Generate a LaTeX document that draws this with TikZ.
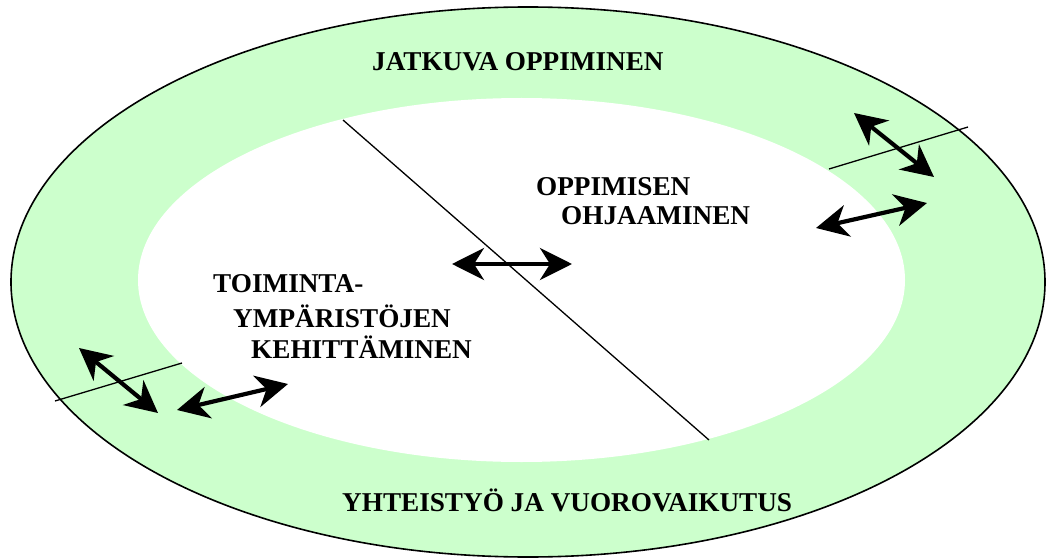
\documentclass[tikz,border=0pt]{standalone}
\usepackage{fontspec}
\setmainfont{Liberation Serif}
\usetikzlibrary{arrows.meta}
\definecolor{ringgreen}{RGB}{204,255,204}
\tikzset{
  lbl/.style={anchor=base west, inner sep=0pt, font=\fontsize{27.2}{30}\selectfont\bfseries},
  thinline/.style={line width=1.3pt},
  bigtip/.tip={Stealth[length=32pt,width=32pt,inset=10pt]},
  dblarrow/.style={line width=4.2pt, arrows={bigtip-bigtip}}
}
\begin{document}
\begin{tikzpicture}[x=1pt,y=-1pt]
\useasboundingbox (0,0) rectangle (1047,559);
% rings
\fill[ringgreen] (528,282) ellipse [x radius=517pt, y radius=275pt];
\fill[white] (521.5,280) ellipse [x radius=383.5pt, y radius=182pt];
\draw[line width=1.6pt] (528,282) ellipse [x radius=517pt, y radius=275pt];
% coordinates
\coordinate (d1) at (343,120);
\coordinate (d2) at (709,440);
\coordinate (r1) at (829,169);
\coordinate (r2) at (968,127);
\coordinate (l1) at (55,401);
\coordinate (l2) at (182,363);
\coordinate (ca) at (452,264);
\coordinate (cb) at (572,264);
\coordinate (ra1) at (854,113);
\coordinate (ra2) at (934,177);
\coordinate (rb1) at (816,228);
\coordinate (rb2) at (927,203);
\coordinate (la1) at (79,348);
\coordinate (la2) at (158,413);
\coordinate (lb1) at (177,410);
\coordinate (lb2) at (288,384);
% lines
\draw[thinline] (d1) -- (d2);
\draw[thinline] (r1) -- (r2);
\draw[thinline] (l1) -- (l2);
% arrows
\draw[dblarrow] (ca) -- (cb);
\draw[dblarrow] (ra1) -- (ra2);
\draw[dblarrow] (rb1) -- (rb2);
\draw[dblarrow] (la1) -- (la2);
\draw[dblarrow] (lb1) -- (lb2);
% labels
\node[lbl] (t1) at (372,71) {JATKUVA OPPIMINEN};
\node[lbl] (t2) at (536,195) {OPPIMISEN};
\node[lbl] (t3) at (561,224) {OHJAAMINEN};
\node[lbl] (t4) at (213,292) {TOIMINTA-};
\node[lbl] (t5) at (233,327) {YMPÄRISTÖJEN};
\node[lbl] (t6) at (251,358) {KEHITTÄMINEN};
\node[lbl] (t7) at (342,511) {YHTEISTYÖ JA VUOROVAIKUTUS};
\end{tikzpicture}
\end{document}
